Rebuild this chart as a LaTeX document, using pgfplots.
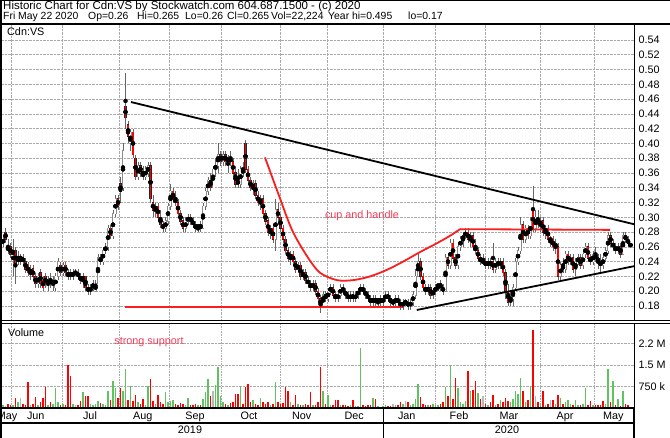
\documentclass[border=0pt]{standalone}
\usepackage{fontspec}
\setmainfont{Liberation Sans}
\usepackage{pgfplots}
\usepackage{pgfplotstable}
\pgfplotsset{compat=1.18}
\definecolor{upgray}{RGB}{140,140,140}
\definecolor{volgreen}{RGB}{95,195,95}
\definecolor{volgray}{RGB}{185,185,185}
\definecolor{notered}{RGB}{245,60,90}
\definecolor{linered}{RGB}{250,30,30}
\definecolor{gridc}{RGB}{170,170,170}

% day index, open, high, low, close, volume (millions), volume colour sign
\pgfplotstableread{
x o h l c v s
0 0.265 0.275 0.26 0.27 0.10 1
1 0.28 0.285 0.265 0.27 0.08 0
2 0.255 0.27 0.25 0.26 0.15 -1
3 0.26 0.265 0.245 0.25 0.10 -1
4 0.25 0.27 0.22 0.255 0.12 1
5 0.255 0.26 0.21 0.235 0.35 -1
6 0.24 0.255 0.235 0.245 0.20 1
7 0.245 0.25 0.235 0.245 0.35 0
8 0.245 0.25 0.235 0.24 0.15 -1
9 0.24 0.245 0.225 0.23 0.12 -1
10 0.235 0.24 0.22 0.225 0.89 -1
11 0.225 0.235 0.215 0.23 0.10 1
12 0.23 0.235 0.215 0.22 0.15 -1
13 0.22 0.225 0.205 0.21 0.38 -1
14 0.21 0.225 0.205 0.22 0.12 1
15 0.225 0.23 0.205 0.21 0.20 -1
16 0.215 0.22 0.2 0.205 0.35 -1
17 0.22 0.225 0.205 0.21 0.72 -1
18 0.21 0.22 0.2 0.215 0.10 1
19 0.215 0.225 0.205 0.21 0.20 -1
20 0.21 0.22 0.2 0.215 0.15 1
21 0.205 0.225 0.2 0.22 0.69 1
22 0.22 0.245 0.215 0.24 0.20 1
23 0.235 0.24 0.22 0.225 0.12 -1
24 0.225 0.24 0.22 0.235 0.15 1
25 0.235 0.24 0.22 0.225 0.10 -1
26 0.225 0.23 0.215 0.22 1.48 -1
27 0.225 0.23 0.215 0.22 1.10 -1
28 0.22 0.23 0.215 0.225 0.15 1
29 0.225 0.23 0.22 0.225 0.10 0
30 0.225 0.23 0.215 0.22 0.12 -1
31 0.22 0.225 0.21 0.215 0.23 -1
32 0.215 0.225 0.205 0.22 0.55 1
33 0.22 0.22 0.2 0.205 0.40 -1
34 0.205 0.21 0.195 0.2 0.40 -1
35 0.2 0.21 0.195 0.205 0.15 1
36 0.205 0.215 0.2 0.21 0.10 1
37 0.2 0.215 0.2 0.21 0.15 1
38 0.21 0.25 0.21 0.245 0.25 1
39 0.245 0.25 0.235 0.24 0.18 -1
40 0.24 0.26 0.235 0.255 0.15 1
41 0.255 0.265 0.25 0.26 0.12 1
42 0.26 0.29 0.255 0.285 0.60 1
43 0.285 0.29 0.27 0.275 0.29 -1
44 0.275 0.31 0.27 0.305 0.95 1
45 0.305 0.33 0.3 0.325 0.69 1
46 0.325 0.33 0.31 0.315 0.35 -1
47 0.345 0.355 0.32 0.335 0.69 -1
48 0.34 0.40 0.335 0.39 0.58 1
49 0.45 0.495 0.42 0.435 1.37 1
50 0.425 0.43 0.40 0.41 0.29 -1
51 0.40 0.42 0.39 0.415 0.75 1
52 0.415 0.42 0.38 0.385 0.23 -1
53 0.38 0.385 0.35 0.355 0.46 -1
54 0.355 0.375 0.35 0.37 0.20 1
55 0.37 0.375 0.355 0.36 0.15 -1
56 0.36 0.37 0.35 0.355 0.32 -1
57 0.355 0.37 0.35 0.365 0.12 1
58 0.36 0.375 0.355 0.37 0.77 1
59 0.37 0.375 0.32 0.325 1.02 -1
60 0.32 0.33 0.30 0.31 0.25 -1
61 0.31 0.32 0.30 0.315 0.15 1
62 0.315 0.32 0.295 0.30 0.46 -1
63 0.30 0.31 0.285 0.29 0.20 -1
64 0.29 0.295 0.28 0.285 0.15 -1
65 0.285 0.30 0.28 0.295 0.55 1
66 0.295 0.32 0.29 0.315 0.20 1
67 0.315 0.345 0.31 0.335 0.25 1
68 0.335 0.34 0.32 0.325 0.29 1
69 0.325 0.335 0.315 0.32 0.15 -1
70 0.32 0.325 0.30 0.305 0.12 -1
71 0.305 0.31 0.29 0.295 0.18 -1
72 0.295 0.30 0.28 0.285 0.15 -1
73 0.285 0.30 0.28 0.295 0.12 1
74 0.295 0.305 0.29 0.30 0.35 1
75 0.30 0.305 0.29 0.295 0.10 -1
76 0.295 0.30 0.285 0.29 0.12 -1
77 0.29 0.295 0.28 0.285 0.15 -1
78 0.285 0.29 0.28 0.29 0.10 1
79 0.29 0.295 0.28 0.285 0.12 -1
80 0.285 0.32 0.285 0.315 0.31 1
81 0.315 0.34 0.31 0.335 0.55 1
82 0.335 0.355 0.33 0.35 1.02 1
83 0.35 0.36 0.335 0.34 0.40 -1
84 0.34 0.37 0.34 0.365 0.58 0
85 0.365 0.38 0.355 0.37 0.81 1
86 0.37 0.40 0.36 0.385 1.42 1
87 0.385 0.39 0.37 0.375 0.40 1
88 0.375 0.39 0.37 0.385 0.20 1
89 0.385 0.39 0.37 0.375 0.15 -1
90 0.375 0.385 0.36 0.38 0.12 1
91 0.38 0.39 0.37 0.375 0.18 -1
92 0.375 0.38 0.355 0.36 0.20 -1
93 0.36 0.37 0.34 0.345 0.49 -1
94 0.35 0.365 0.34 0.345 0.49 -1
95 0.345 0.37 0.34 0.365 0.77 1
96 0.365 0.375 0.355 0.36 0.15 -1
97 0.40 0.405 0.36 0.365 0.72 -1
98 0.365 0.37 0.345 0.35 0.83 -1
99 0.35 0.355 0.335 0.34 0.20 -1
100 0.34 0.35 0.33 0.345 0.29 1
101 0.345 0.35 0.325 0.33 0.15 -1
102 0.33 0.335 0.315 0.32 0.12 -1
103 0.32 0.33 0.31 0.325 0.35 1
104 0.325 0.33 0.30 0.305 0.20 -1
105 0.305 0.31 0.29 0.295 0.15 -1
106 0.295 0.30 0.275 0.28 0.20 -1
107 0.28 0.29 0.27 0.285 0.12 1
108 0.285 0.29 0.265 0.27 0.15 -1
109 0.27 0.325 0.255 0.31 0.90 1
110 0.31 0.32 0.29 0.30 0.20 -1
111 0.30 0.305 0.28 0.285 0.15 -1
112 0.285 0.29 0.265 0.27 0.18 -1
113 0.27 0.275 0.25 0.255 0.72 -1
114 0.255 0.26 0.24 0.245 0.58 -1
115 0.245 0.255 0.235 0.25 0.20 1
116 0.25 0.255 0.235 0.24 0.12 -1
117 0.24 0.245 0.225 0.23 0.46 -1
118 0.23 0.24 0.225 0.235 0.15 1
119 0.235 0.24 0.215 0.22 0.12 -1
120 0.22 0.23 0.215 0.225 0.10 1
121 0.225 0.23 0.21 0.215 0.15 -1
122 0.215 0.22 0.205 0.21 0.12 -1
123 0.21 0.215 0.20 0.205 0.55 -1
124 0.205 0.215 0.20 0.21 0.10 1
125 0.21 0.215 0.195 0.20 0.12 -1
126 0.20 0.205 0.185 0.19 0.20 -1
127 0.19 0.195 0.17 0.18 1.41 -1
128 0.18 0.20 0.18 0.195 0.58 1
129 0.195 0.20 0.185 0.19 0.15 -1
130 0.19 0.205 0.185 0.20 0.46 1
131 0.20 0.21 0.195 0.205 0.12 1
132 0.205 0.21 0.19 0.195 0.10 -1
133 0.195 0.20 0.185 0.19 0.29 -1
134 0.19 0.20 0.185 0.195 0.29 -1
135 0.195 0.21 0.19 0.205 0.10 1
136 0.205 0.21 0.195 0.20 0.12 -1
137 0.20 0.205 0.19 0.195 0.10 -1
138 0.195 0.20 0.185 0.19 0.08 -1
139 0.19 0.20 0.185 0.195 0.10 1
140 0.195 0.20 0.185 0.19 0.29 -1
141 0.19 0.20 0.185 0.195 0.06 1
142 0.195 0.205 0.19 0.20 0.08 1
143 0.20 0.21 0.195 0.205 2.08 1
144 0.205 0.21 0.195 0.20 0.10 -1
145 0.20 0.205 0.19 0.195 0.08 -1
146 0.195 0.20 0.185 0.19 0.10 -1
147 0.19 0.195 0.18 0.185 0.12 -1
148 0.185 0.195 0.18 0.19 0.35 1
149 0.19 0.195 0.18 0.185 0.31 -1
150 0.185 0.19 0.18 0.19 0.06 1
151 0.19 0.195 0.18 0.185 0.05 -1
152 0.185 0.195 0.18 0.19 0.08 1
153 0.19 0.20 0.185 0.195 0.10 1
154 0.195 0.20 0.185 0.19 0.06 -1
155 0.19 0.195 0.18 0.185 0.08 -1
156 0.185 0.19 0.18 0.185 0.15 0
157 0.185 0.195 0.18 0.19 0.10 1
158 0.19 0.195 0.18 0.185 0.12 -1
159 0.185 0.19 0.175 0.18 0.20 -1
160 0.18 0.19 0.175 0.185 0.15 1
161 0.185 0.19 0.18 0.185 0.25 0
162 0.185 0.19 0.175 0.18 0.20 -1
163 0.18 0.19 0.175 0.185 0.10 1
164 0.185 0.20 0.18 0.195 0.15 1
165 0.195 0.23 0.19 0.22 0.30 1
166 0.22 0.25 0.22 0.24 0.83 1
167 0.24 0.245 0.215 0.22 0.38 -1
168 0.22 0.225 0.20 0.205 0.15 -1
169 0.205 0.21 0.195 0.20 0.12 -1
170 0.20 0.21 0.195 0.205 0.10 1
171 0.205 0.21 0.19 0.195 0.12 -1
172 0.195 0.205 0.19 0.20 0.15 1
173 0.20 0.21 0.195 0.205 0.10 1
174 0.205 0.21 0.20 0.21 0.12 1
175 0.21 0.215 0.20 0.205 0.15 -1
176 0.205 0.21 0.195 0.20 0.20 -1
177 0.20 0.25 0.20 0.245 0.73 1
178 0.245 0.25 0.23 0.235 0.40 -1
179 0.235 0.27 0.23 0.265 1.50 1
180 0.265 0.27 0.24 0.245 0.30 -1
181 0.245 0.25 0.23 0.235 1.04 -1
182 0.235 0.265 0.23 0.26 0.69 1
183 0.26 0.275 0.255 0.27 0.20 1
184 0.27 0.28 0.26 0.275 0.15 1
185 0.275 0.285 0.27 0.28 0.25 1
186 0.28 0.285 0.265 0.27 1.27 -1
187 0.27 0.28 0.26 0.275 0.58 1
188 0.275 0.28 0.255 0.26 0.61 -1
189 0.26 0.27 0.25 0.255 0.93 -1
190 0.255 0.26 0.24 0.245 0.52 1
191 0.245 0.25 0.235 0.24 0.30 -1
192 0.24 0.25 0.235 0.24 0.40 0
193 0.24 0.245 0.23 0.235 0.15 -1
194 0.235 0.245 0.23 0.24 0.12 1
195 0.24 0.245 0.23 0.235 0.20 -1
196 0.24 0.265 0.225 0.23 0.44 -1
197 0.23 0.245 0.225 0.24 0.12 1
198 0.24 0.245 0.23 0.235 0.15 -1
199 0.235 0.245 0.23 0.24 0.29 1
200 0.24 0.245 0.22 0.225 0.20 -1
201 0.225 0.23 0.19 0.20 0.35 -1
202 0.20 0.21 0.18 0.185 0.25 -1
203 0.185 0.20 0.18 0.19 0.20 1
204 0.19 0.21 0.18 0.205 0.30 1
205 0.205 0.245 0.20 0.24 0.60 1
206 0.24 0.26 0.235 0.255 0.50 1
207 0.255 0.30 0.25 0.29 1.04 1
208 0.29 0.295 0.265 0.27 0.58 -1
209 0.27 0.29 0.265 0.285 0.20 1
210 0.285 0.29 0.27 0.275 0.29 -1
211 0.275 0.30 0.27 0.295 0.75 1
212 0.31 0.342 0.28 0.285 2.72 -1
213 0.285 0.31 0.28 0.30 0.40 0
214 0.30 0.31 0.285 0.29 0.20 -1
215 0.29 0.30 0.28 0.295 0.15 1
216 0.295 0.30 0.275 0.28 0.58 -1
217 0.28 0.29 0.27 0.285 0.12 1
218 0.285 0.29 0.265 0.27 0.15 -1
219 0.27 0.275 0.26 0.27 0.29 0
220 0.27 0.275 0.255 0.26 0.29 -1
221 0.26 0.27 0.25 0.265 0.15 1
222 0.26 0.265 0.215 0.22 0.46 -1
223 0.22 0.24 0.215 0.235 0.35 1
224 0.235 0.245 0.225 0.23 0.15 -1
225 0.23 0.255 0.225 0.25 0.20 1
226 0.25 0.255 0.235 0.24 0.29 1
227 0.24 0.25 0.235 0.245 0.15 1
228 0.245 0.25 0.225 0.23 0.12 -1
229 0.23 0.245 0.22 0.24 0.29 1
230 0.24 0.25 0.235 0.245 0.12 1
231 0.245 0.25 0.23 0.235 0.10 -1
232 0.235 0.255 0.23 0.25 0.15 1
233 0.25 0.265 0.245 0.26 0.69 1
234 0.26 0.265 0.24 0.245 0.12 -1
235 0.245 0.25 0.235 0.24 0.23 -1
236 0.24 0.255 0.235 0.25 0.10 1
237 0.25 0.26 0.24 0.245 0.12 -1
238 0.245 0.25 0.23 0.24 0.10 -1
239 0.24 0.25 0.225 0.235 0.12 -1
240 0.235 0.25 0.23 0.245 0.23 -1
241 0.245 0.26 0.24 0.255 0.15 1
242 0.255 0.28 0.25 0.275 1.37 1
243 0.275 0.28 0.26 0.265 0.20 -1
244 0.265 0.27 0.255 0.26 0.95 1
245 0.26 0.265 0.25 0.255 0.12 -1
246 0.255 0.265 0.25 0.26 0.31 1
247 0.26 0.265 0.245 0.25 0.06 -1
248 0.25 0.28 0.25 0.275 0.58 1
249 0.275 0.28 0.265 0.27 0.15 -1
250 0.27 0.275 0.26 0.265 0.10 -1
251 0.26 0.265 0.26 0.265 0.05 1
}\cdn

\begin{document}
\begin{tikzpicture}[font=\fontsize{10.8}{12.5}\selectfont]
\useasboundingbox (0,0) rectangle (670pt,438pt);
\fill[white] (0,0) rectangle (670pt,438pt);

% ---- price panel ----
\begin{axis}[
  at={(2pt,117.5pt)}, anchor=south west,
  width=632pt, height=296.5pt, scale only axis,
  xmin=-0.4, xmax=252.4, ymin=0.1604, ymax=0.5616,
  axis line style={black, line width=1pt},
  xtick={3.5,23.7,46.4,66.5,87.5,110.8,129.7,152.1,172.8,192.8,214.8,236.4},
  xticklabels={},
  ytick={0.18,0.20,0.22,0.24,0.26,0.28,0.30,0.32,0.34,0.36,0.38,0.40,0.42,0.44,0.46,0.48,0.50,0.52,0.54},
  yticklabels={0.18,0.20,0.22,0.24,0.26,0.28,0.30,0.32,0.34,0.36,0.38,0.40,0.42,0.44,0.46,0.48,0.50,0.52,0.54},
  yticklabel pos=right,
  yticklabel style={anchor=west, inner sep=0pt, xshift=4.5pt},
  major tick length=0pt,
  grid=major, grid style={densely dotted, gridc, line width=0.6pt},
]
% wicks
\addplot[only marks, mark=none, error bars/.cd, y dir=both, y explicit,
  error mark=none, error bar style={black!60, line width=0.55pt}]
  table[x=x, y expr={(\thisrow{h}+\thisrow{l})/2}, y error expr={(\thisrow{h}-\thisrow{l})/2}] {\cdn};
% up bodies
\addplot[only marks, mark=none, restrict expr to domain={\thisrow{c}-\thisrow{o}}{0:1},
  error bars/.cd, y dir=both, y explicit, error mark=none,
  error bar style={upgray, line width=2pt}]
  table[x=x, y expr={(\thisrow{o}+\thisrow{c})/2}, y error expr={abs(\thisrow{c}-\thisrow{o})/2+0.0008}] {\cdn};
\addplot[only marks, mark=none, restrict expr to domain={\thisrow{c}-\thisrow{o}}{0:1},
  error bars/.cd, y dir=both, y explicit, error mark=none,
  error bar style={white, line width=0.7pt}]
  table[x=x, y expr={(\thisrow{o}+\thisrow{c})/2}, y error expr={abs(\thisrow{c}-\thisrow{o})/2}] {\cdn};
% down bodies
\addplot[only marks, mark=none, restrict expr to domain={\thisrow{c}-\thisrow{o}}{-1:-0.0001},
  error bars/.cd, y dir=both, y explicit, error mark=none,
  error bar style={black!85, line width=2.1pt}]
  table[x=x, y expr={(\thisrow{o}+\thisrow{c})/2}, y error expr={abs(\thisrow{c}-\thisrow{o})/2+0.0008}] {\cdn};
\addplot[only marks, mark=none, restrict expr to domain={\thisrow{c}-\thisrow{o}}{-1:-0.0001},
  error bars/.cd, y dir=both, y explicit, error mark=none,
  error bar style={red, line width=1.1pt}]
  table[x=x, y expr={(\thisrow{o}+\thisrow{c})/2}, y error expr={abs(\thisrow{c}-\thisrow{o})/2}] {\cdn};

% trend lines
\addplot[black, line width=1.8pt] coordinates {(51.2,0.456) (253.2,0.290)};
\addplot[black, line width=1.8pt] coordinates {(165.5,0.1746) (254.8,0.2355)};
\addplot[linered, line width=1.8pt] coordinates {(48.8,0.179) (160,0.179)};
\addplot[linered, line width=1.8pt, smooth, tension=0.5] coordinates {
  (104.8,0.381) (110,0.333) (115.6,0.283) (121.6,0.2475) (126.8,0.225)
  (133.6,0.215) (140,0.215) (146.8,0.22) (153.6,0.229) (160,0.24)
  (166.8,0.253) (173.6,0.265) (178.8,0.275) (182.8,0.284)};
\addplot[linered, line width=1.8pt] coordinates {(182.8,0.284) (242.8,0.283)};
\node[text=notered, inner sep=0pt] at (axis cs:143.6,0.302) {cup and handle};
\end{axis}

% ---- volume panel ----
\begin{axis}[
  at={(2pt,30pt)}, anchor=south west,
  width=632pt, height=84.5pt, scale only axis,
  xmin=-0.4, xmax=252.4, ymin=0, ymax=2.94,
  axis line style={black, line width=1pt},
  xtick={1.6,13.1,34.8,55.9,76.8,98.4,119.5,140.5,161.5,182.4,202.4,224.8,244.1},
  xticklabels={May,Jun,Jul,Aug,Sep,Oct,Nov,Dec,Jan,Feb,Mar,Apr,May},
  xticklabel style={anchor=base, inner sep=0pt, yshift=-11.5pt},
  minor xtick={3.5,23.7,46.4,66.5,87.5,110.8,129.7,152.1,172.8,192.8,214.8,236.4},
  ytick={0.75,1.5,2.25},
  yticklabels={750 k,1.5 M,2.2 M},
  yticklabel pos=right,
  yticklabel style={anchor=west, inner sep=0pt, xshift=4.5pt},
  major tick length=0pt, minor tick length=0pt,
  xminorgrids, ymajorgrids, xmajorgrids=false,
  grid style={densely dotted, gridc, line width=0.6pt},
  minor grid style={densely dotted, gridc, line width=0.6pt},
]
\addplot[ycomb, mark=none, volgreen, line width=1.4pt, restrict expr to domain={\thisrow{s}}{0.5:2}]
  table[x=x, y=v] {\cdn};
\addplot[ycomb, mark=none, red, line width=1.4pt, restrict expr to domain={\thisrow{s}}{-2:-0.5}]
  table[x=x, y=v] {\cdn};
\addplot[ycomb, mark=none, volgray, line width=1.4pt, restrict expr to domain={\thisrow{s}}{-0.5:0.5}]
  table[x=x, y=v] {\cdn};
\node[text=notered, inner sep=0pt] at (axis cs:58.4,2.30) {strong support};
\end{axis}

% ---- frame and header ----
\draw[line width=2pt] (1pt,0) -- (1pt,438pt);
\draw[line width=0.8pt] (0,437.6pt) -- (670pt,437.6pt);
\draw[line width=1.4pt] (0,414pt) -- (670pt,414pt);
\draw[line width=1pt] (0,117.5pt) -- (670pt,117.5pt);
\draw[line width=1pt] (0,114.5pt) -- (670pt,114.5pt);
\draw[line width=1.3pt] (0,15pt) -- (634pt,15pt);
\draw[line width=1.3pt] (0,30pt) -- (634pt,30pt);
\draw[line width=1pt] (383pt,0) -- (383pt,30pt);
\draw[line width=1.3pt] (634pt,0) -- (634pt,30pt);
\node[anchor=base] at (190pt,4pt) {2019};
\node[anchor=base] at (507pt,4pt) {2020};

\node[anchor=base west, inner sep=0pt, font=\fontsize{11.5}{12}\selectfont] at (3pt,428.5pt) {Historic Chart for Cdn:VS by Stockwatch.com 604.687.1500 - (c) 2020};
\begin{scope}[font=\fontsize{10.4}{12}\selectfont]
\node[anchor=base west, inner sep=0pt] at (3pt,418pt) {Fri May 22 2020};
\node[anchor=base west, inner sep=0pt] at (88pt,418pt) {Op=0.26};
\node[anchor=base west, inner sep=0pt] at (137pt,418pt) {Hi=0.265};
\node[anchor=base west, inner sep=0pt] at (185pt,418pt) {Lo=0.26};
\node[anchor=base west, inner sep=0pt] at (227pt,418pt) {Cl=0.265};
\node[anchor=base west, inner sep=0pt] at (271pt,418pt) {Vol=22,224};
\node[anchor=base west, inner sep=0pt] at (328pt,418pt) {Year hi=0.495};
\node[anchor=base west, inner sep=0pt] at (408pt,418pt) {lo=0.17};
\end{scope}
\node[anchor=base west, inner sep=0pt] at (7pt,402pt) {Cdn:VS};
\node[anchor=base west, inner sep=0pt] at (8pt,101pt) {Volume};
\end{tikzpicture}
\end{document}
